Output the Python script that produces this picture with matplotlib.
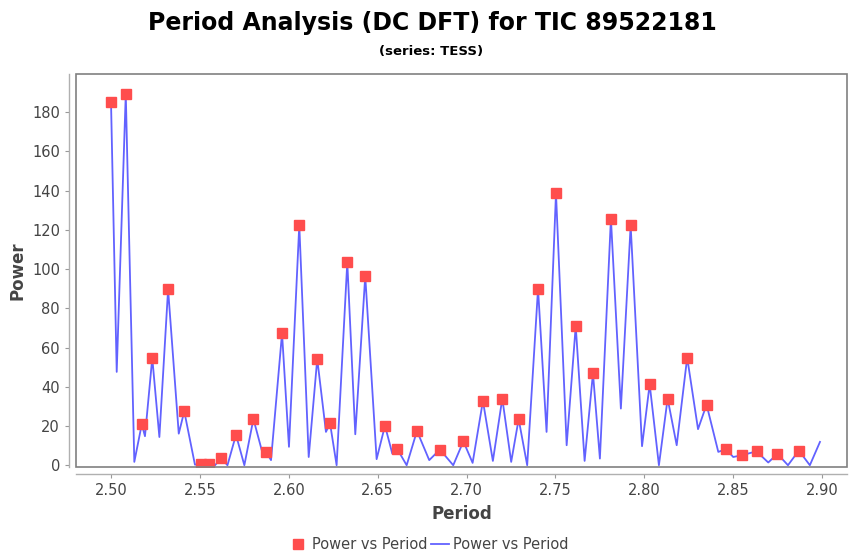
import matplotlib
matplotlib.use("Agg")
import matplotlib.pyplot as plt
from matplotlib.lines import Line2D
from matplotlib.patches import Rectangle

# Peaks found by the DC DFT (red squares)
peak_period = [2.5000, 2.5083, 2.5173, 2.5232, 2.5321, 2.5412, 2.5506, 2.5549,
               2.5620, 2.5703, 2.5801, 2.5874, 2.5962, 2.6059, 2.6160, 2.6232,
               2.6329, 2.6430, 2.6541, 2.6610, 2.6721, 2.6850, 2.6982, 2.7092,
               2.7201, 2.7293, 2.7402, 2.7503, 2.7614, 2.7711, 2.7812, 2.7923,
               2.8030, 2.8131, 2.8241, 2.8350, 2.8459, 2.8549, 2.8631, 2.8749,
               2.8869]
peak_power = [185.0, 189.5, 20.9, 54.7, 89.7, 27.5, 0.7, 0.8,
              3.7, 15.5, 23.6, 6.5, 67.3, 122.5, 54.2, 21.4,
              103.5, 96.5, 20.2, 8.3, 17.5, 8.0, 12.2, 32.8,
              34.0, 23.5, 90.0, 138.8, 71.0, 46.9, 125.8, 122.3,
              41.3, 34.0, 54.9, 30.9, 8.2, 5.1, 7.1, 5.8,
              7.5]

# Spectrum between the peaks (troughs)
trough_period = [2.5032, 2.5131, 2.5191, 2.5272, 2.5381, 2.5472, 2.5585, 2.5655,
                 2.5750, 2.5848, 2.5900, 2.6001, 2.6112, 2.6209, 2.6269, 2.6374,
                 2.6494, 2.6582, 2.6663, 2.6790, 2.6925, 2.7034, 2.7148, 2.7251,
                 2.7341, 2.7450, 2.7563, 2.7664, 2.7750, 2.7868, 2.7987, 2.8082,
                 2.8182, 2.8302, 2.8416, 2.8500, 2.8697, 2.8808, 2.8931, 2.8988]
trough_power = [47.6, 1.7, 14.8, 14.4, 16.1, 0.3, 0.0, 0.0,
                0.0, 7.6, 2.6, 9.4, 4.2, 17.0, 0.0, 15.8,
                3.1, 6.0, 0.0, 2.6, 0.0, 1.2, 2.2, 1.7,
                0.0, 17.0, 10.2, 2.2, 3.4, 28.9, 9.7, 0.0,
                10.2, 18.4, 6.8, 4.2, 1.4, 0.0, 0.0, 11.9]

spectrum = sorted(zip(peak_period + trough_period, peak_power + trough_power))
line_period = [p for p, _ in spectrum]
line_power = [v for _, v in spectrum]

grey = "#808080"
text_grey = "#444444"

fig = plt.figure(figsize=(8.5, 5.57), dpi=100)
ax = fig.add_axes([76 / 850, 90 / 557, 771 / 850, 393 / 557])

ax.plot(line_period, line_power, color="#6262ff", lw=1.3, zorder=2)
ax.plot(peak_period, peak_power, ls="none", marker="s", ms=7.5,
        color="#ff4d4d", mec="#ff4d4d", zorder=3)

ax.set_xlim(2.4803, 2.914)
ax.set_ylim(-0.9, 199.5)
ax.set_xticks([2.50, 2.55, 2.60, 2.65, 2.70, 2.75, 2.80, 2.85, 2.90])
ax.set_xticklabels(["2.50", "2.55", "2.60", "2.65", "2.70", "2.75", "2.80", "2.85", "2.90"])
ax.set_yticks(range(0, 181, 20))

# frame around the plot, axis lines sit a little outside it
ax.add_patch(Rectangle((0, 0), 1, 1, transform=ax.transAxes, fill=False,
                       edgecolor=grey, lw=1.2, clip_on=False, zorder=4))
for side in ["top", "right"]:
    ax.spines[side].set_visible(False)
for side in ["left", "bottom"]:
    ax.spines[side].set_position(("outward", 5))
    ax.spines[side].set_color("#b0b0b0")
    ax.spines[side].set_linewidth(1.0)

ax.tick_params(axis="both", colors="#999999", labelcolor=text_grey,
               labelsize=10.5, length=3, width=0.8)
ax.set_xlabel("Period", fontsize=12, fontweight="bold", color=text_grey, labelpad=5)
ax.set_ylabel("Power", fontsize=12, fontweight="bold", color=text_grey, labelpad=4)

fig.text(0.509, 0.958, "Period Analysis (DC DFT) for TIC 89522181",
         ha="center", va="center", fontsize=17, fontweight="bold")
fig.text(0.507, 0.907, "(series: TESS)", ha="center", va="center",
         fontsize=9.5, fontweight="bold")

handles = [Line2D([], [], ls="none", marker="s", ms=7, color="#ff4d4d"),
           Line2D([], [], color="#6262ff", lw=1.3)]
fig.legend(handles, ["Power vs Period", "Power vs Period"], loc="center",
           bbox_to_anchor=(0.505, 0.022), ncol=2, frameon=False, fontsize=10.5,
           handlelength=1.2, handletextpad=0.3, columnspacing=0.3,
           labelcolor=text_grey)

fig.savefig("out.png", dpi=100)
